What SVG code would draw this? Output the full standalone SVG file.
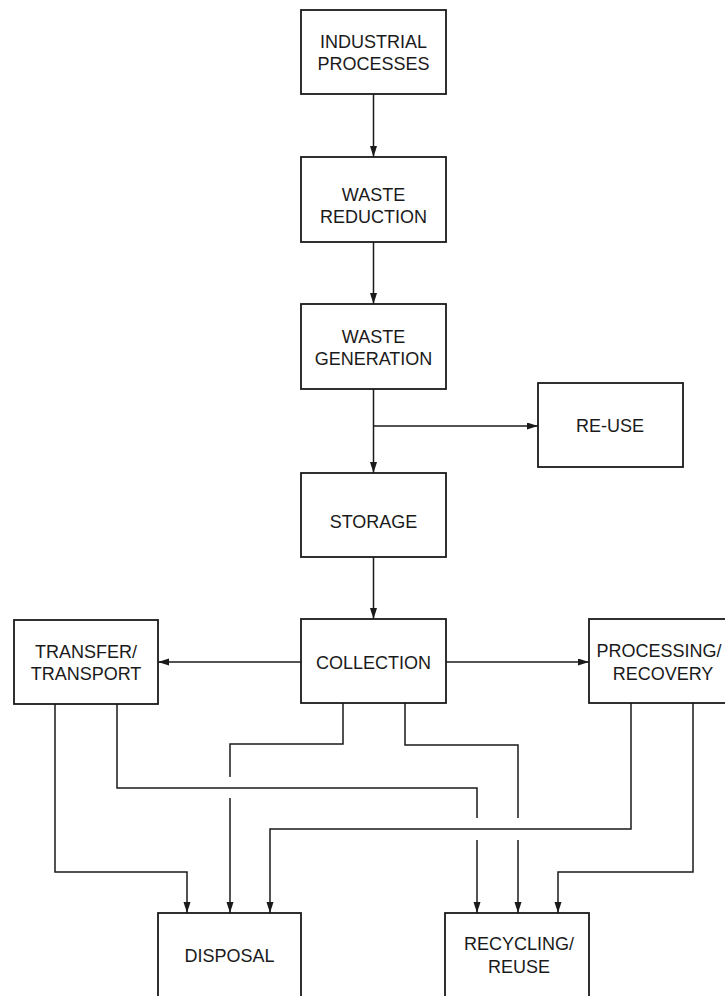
<svg xmlns="http://www.w3.org/2000/svg" width="725" height="996" viewBox="0 0 725 996">
<defs>
<style>
.box{fill:#fff;stroke:#1a1a1a;stroke-width:1.8}
.t{font-family:"Liberation Sans",Arial,sans-serif;font-size:18px;fill:#1a1a1a;text-anchor:middle}
.c{fill:none;stroke:#1a1a1a;stroke-width:1.5}
</style>
<marker id="ah" markerUnits="userSpaceOnUse" markerWidth="12" markerHeight="8" refX="11" refY="3.5" orient="auto">
<path d="M0,0 L11,3.5 L0,7 z" fill="#1a1a1a"/>
</marker>
</defs>
<rect width="725" height="996" fill="#fff"/>
<g id="connectors">
<path class="c" d="M373.5,94 V157" marker-end="url(#ah)"/>
<path class="c" d="M373.5,242 V304" marker-end="url(#ah)"/>
<path class="c" d="M373.5,389 V473" marker-end="url(#ah)"/>
<path class="c" d="M373.5,426 H538" marker-end="url(#ah)"/>
<path class="c" d="M373.5,557 V619" marker-end="url(#ah)"/>
<path class="c" d="M301,662 H158" marker-end="url(#ah)"/>
<path class="c" d="M446,662 H589" marker-end="url(#ah)"/>
<path class="c" d="M55,704 V872 H187 V913" marker-end="url(#ah)"/>
<path class="c" d="M117,704 V788 H477 V818"/>
<path class="c" d="M477,840 V913" marker-end="url(#ah)"/>
<path class="c" d="M343,703 V744 H230 V777"/>
<path class="c" d="M230,798 V913" marker-end="url(#ah)"/>
<path class="c" d="M405,703 V745 H518 V818"/>
<path class="c" d="M518,840 V913" marker-end="url(#ah)"/>
<path class="c" d="M631,703 V829 H270 V913" marker-end="url(#ah)"/>
<path class="c" d="M693,703 V872 H558 V913" marker-end="url(#ah)"/>
</g>
<g id="industrial"><rect class="box" x="301" y="10" width="145" height="84"/><text class="t" x="373.5" y="48">INDUSTRIAL</text><text class="t" x="373.5" y="70">PROCESSES</text></g>
<g id="reduction"><rect class="box" x="301" y="157" width="145" height="85"/><text class="t" x="373.5" y="201">WASTE</text><text class="t" x="373.5" y="223">REDUCTION</text></g>
<g id="generation"><rect class="box" x="301" y="304" width="145" height="85"/><text class="t" x="373.5" y="343">WASTE</text><text class="t" x="373.5" y="365">GENERATION</text></g>
<g id="reuse"><rect class="box" x="538" y="383" width="145" height="84"/><text class="t" x="610" y="432">RE-USE</text></g>
<g id="storage"><rect class="box" x="301" y="473" width="145" height="84"/><text class="t" x="373.5" y="528">STORAGE</text></g>
<g id="collection"><rect class="box" x="301" y="619" width="145" height="84"/><text class="t" x="373.5" y="669">COLLECTION</text></g>
<g id="transfer"><rect class="box" x="14" y="620" width="144" height="84"/><text class="t" x="86" y="658">TRANSFER/</text><text class="t" x="86" y="680">TRANSPORT</text></g>
<g id="processing"><rect class="box" x="589" y="619" width="145" height="84"/><text class="t" x="659" y="657">PROCESSING/</text><text class="t" x="663" y="680">RECOVERY</text></g>
<g id="disposal"><rect class="box" x="158" y="913" width="143" height="100"/><text class="t" x="229.5" y="962">DISPOSAL</text></g>
<g id="recycling"><rect class="box" x="445" y="913" width="144" height="100"/><text class="t" x="519" y="950">RECYCLING/</text><text class="t" x="519" y="973">REUSE</text></g>
</svg>
